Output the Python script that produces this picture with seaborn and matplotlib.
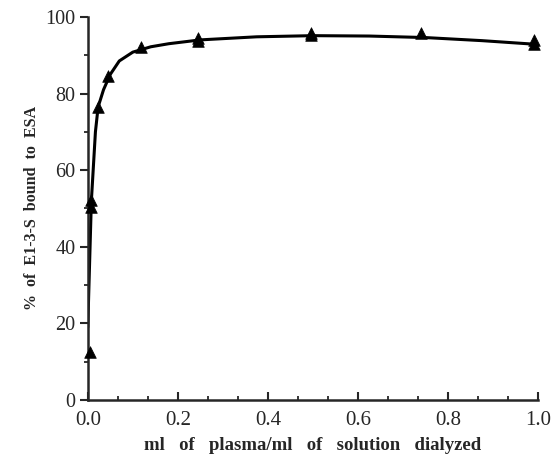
import numpy as np
import pandas as pd
import seaborn as sns
import matplotlib.pyplot as plt
from matplotlib.ticker import MultipleLocator, FormatStrFormatter

# measured points (triangles)
plasma_ratio = [0.004, 0.008, 0.008, 0.023, 0.045, 0.118, 0.245, 0.245, 0.495, 0.495, 0.74, 0.99, 0.99]
pct_bound = [12.6, 50.5, 52.2, 76.6, 84.6, 92.2, 94.4, 93.6, 95.8, 95.2, 95.8, 94.0, 92.8]

# hand drawn curve through the points
curve_x = [0.0, 0.008, 0.017, 0.023, 0.035, 0.05, 0.07, 0.1, 0.14, 0.18, 0.25, 0.375, 0.5, 0.625, 0.75, 0.875, 1.0]
curve_y = [19, 52, 70, 76.5, 81, 85, 88.5, 90.8, 92.2, 93.0, 94.0, 94.8, 95.1, 95.0, 94.6, 93.8, 92.8]

pts = pd.DataFrame({'x': plasma_ratio, 'y': pct_bound})
curve = pd.DataFrame({'x': curve_x, 'y': curve_y})

sns.set_style('ticks')
plt.rcParams['font.family'] = ['Liberation Serif', 'DejaVu Serif']

fig = plt.figure(figsize=(5.52, 4.69), dpi=100)
ax = fig.add_axes([0.159, 0.147, 0.816, 0.817])

sns.lineplot(data=curve, x='x', y='y', color='black', linewidth=2.2, ax=ax, sort=False)
sns.scatterplot(data=pts, x='x', y='y', marker='^', color='black', s=70,
                edgecolor='black', linewidth=0.5, ax=ax, zorder=3, clip_on=False)

ax.set_xlim(0, 1.0)
ax.set_ylim(0, 100)
ax.xaxis.set_major_locator(MultipleLocator(0.2))
ax.xaxis.set_minor_locator(MultipleLocator(0.2 / 3))
ax.xaxis.set_major_formatter(FormatStrFormatter('%.1f'))
ax.yaxis.set_major_locator(MultipleLocator(20))
ax.yaxis.set_minor_locator(MultipleLocator(10))

sns.despine(ax=ax)
for s in ['left', 'bottom']:
    ax.spines[s].set_linewidth(1.8)
ax.tick_params(axis='x', which='major', direction='in', length=6, width=1.5, labelsize=15, pad=8)
ax.tick_params(axis='x', which='minor', direction='in', length=3, width=1.3)
ax.tick_params(axis='y', which='major', direction='out', length=6, width=1.5, labelsize=14.5, pad=3)
ax.tick_params(axis='y', which='minor', direction='out', length=3, width=1.3)

ax.set_xlabel('ml   of   plasma/ml   of   solution   dialyzed', fontsize=13.5, fontweight='bold', labelpad=5)
ax.set_ylabel('%  of  E1-3-S  bound  to  ESA', fontsize=11.5, fontweight='bold', labelpad=4)

fig.savefig('out.png', dpi=100)
